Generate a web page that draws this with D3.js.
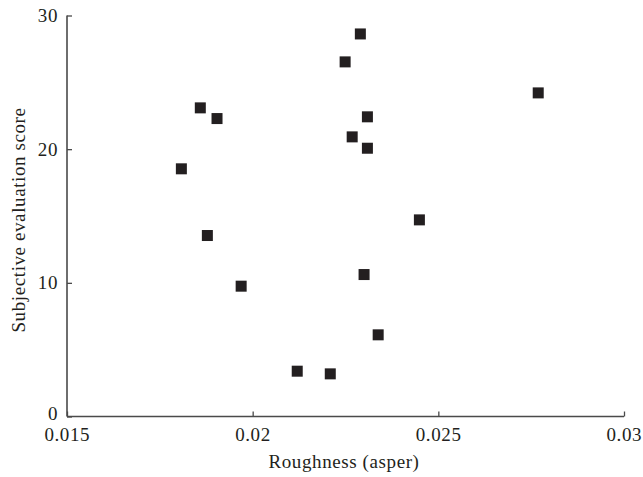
<!DOCTYPE html>
<html><head><meta charset="utf-8">
<script src="https://cdn.jsdelivr.net/npm/d3@7"></script>
<style>body{margin:0;background:#fff}svg{display:block}</style>
</head><body>
<svg id="c" width="643" height="477"></svg>
<script>
const roughness = [0.01808,0.01859,0.01904,0.01878,0.01969,0.0212,0.02209,0.02249,0.0229,0.02268,0.02309,0.02309,0.02300,0.02338,0.02449,0.02769];
const scores = [18.53,23.09,22.29,13.54,9.75,3.39,3.19,26.53,28.62,20.92,22.42,20.07,10.62,6.11,14.71,24.21];
const xTicks = [0.015,0.02,0.025,0.03];
const xTickLabels = ["0.015","0.02","0.025","0.03"];
const yTicks = [0,10,20,30];
const xTitle = "Roughness (asper)";
const yTitle = "Subjective evaluation score";

const svg = d3.select("#c");
const font = "'Liberation Serif', 'Times New Roman', serif";
const fs = 19, ls = 0.6;
const textColor = "#231f20";
const x = d3.scaleLinear().domain([0.015,0.03]).range([67,624]);
const y = d3.scaleLinear().domain([0,30]).range([416.5,15.5]);
const axisColor = "#4a4a4a";

const xAxis = svg.append("g").attr("transform","translate(0,416.5)")
  .call(d3.axisTop(x).tickValues(xTicks).tickSize(5).tickFormat(""));
const yAxis = svg.append("g").attr("transform","translate(67,0)")
  .call(d3.axisRight(y).tickValues(yTicks).tickSize(5).tickFormat(""));
[xAxis,yAxis].forEach(g=>{
  g.select(".domain").attr("stroke",axisColor).attr("stroke-width",1.6);
  g.selectAll(".tick line").attr("stroke",axisColor).attr("stroke-width",1.3);
});
xAxis.select(".domain").attr("d",`M${x.range()[0]},0H${x.range()[1]}`);
yAxis.select(".domain").attr("d",`M0,${y.range()[0]}V${y.range()[1]}`);

svg.append("g").selectAll("text").data(xTicks).join("text")
  .attr("x",d=>x(d)+ls/2).attr("y",440.5).attr("text-anchor","middle")
  .attr("font-family",font).attr("font-size",fs).attr("letter-spacing",ls).attr("fill",textColor)
  .text((d,i)=>xTickLabels[i]);
svg.append("g").selectAll("text").data(yTicks).join("text")
  .attr("x",58).attr("y",d=>d===0 ? 419.5 : y(d)+6.5).attr("text-anchor","end")
  .attr("font-family",font).attr("font-size",fs).attr("letter-spacing",ls).attr("fill",textColor)
  .text(d=>d);

svg.append("text").attr("x",344).attr("y",468).attr("text-anchor","middle")
  .attr("font-family",font).attr("font-size",fs).attr("letter-spacing",ls).attr("fill",textColor).text(xTitle);
svg.append("text").attr("transform","translate(25,220) rotate(-90)").attr("text-anchor","middle")
  .attr("font-family",font).attr("font-size",fs).attr("letter-spacing",ls).attr("fill",textColor).text(yTitle);

const s = 11;
svg.append("g").selectAll("rect").data(roughness).join("rect")
  .attr("x",(d)=>x(d)-s/2).attr("y",(d,i)=>y(scores[i])-s/2)
  .attr("width",s).attr("height",s).attr("fill",textColor);
</script>
</body></html>
